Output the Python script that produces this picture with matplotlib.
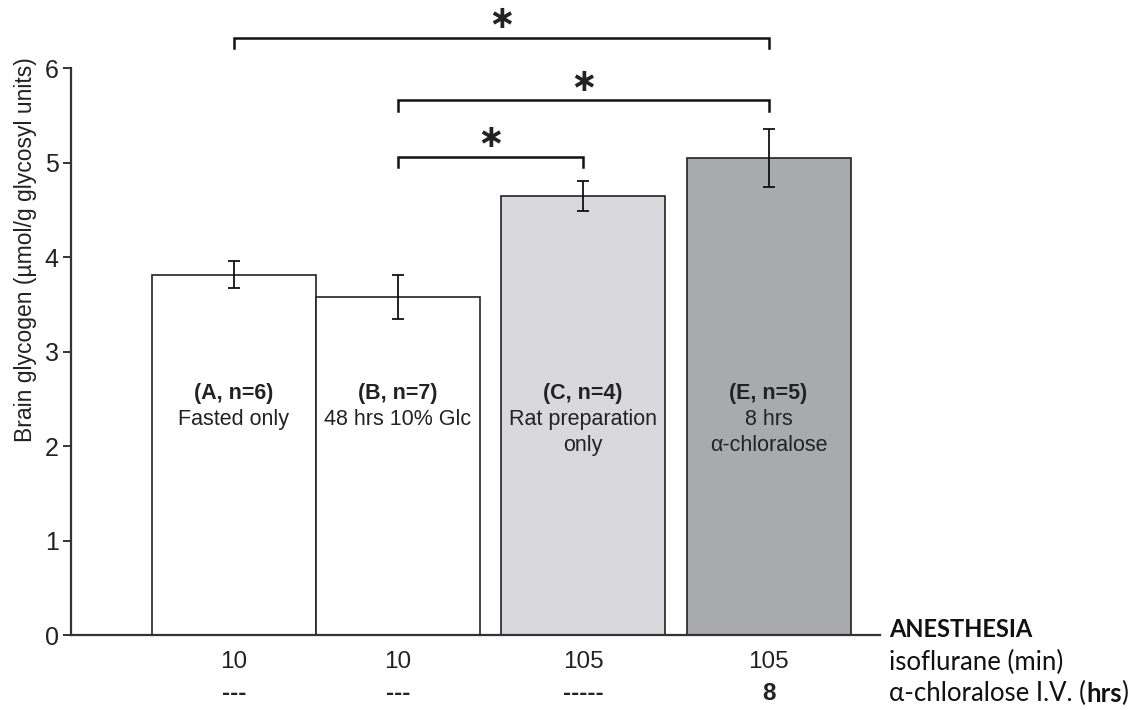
import matplotlib.pyplot as plt
from matplotlib.transforms import blended_transform_factory

plt.rcParams['font.family'] = ['Liberation Sans', 'DejaVu Sans']

# data
groups = ['(A, n=6)', '(B, n=7)', '(C, n=4)', '(E, n=5)']
descr = ['Fasted only', '48 hrs 10% Glc', 'Rat preparation\nonly', '8 hrs\nα-chloralose']
glycogen = [3.81, 3.58, 4.65, 5.05]
err_hi = [3.96, 3.81, 4.80, 5.35]
err_lo = [3.67, 3.34, 4.49, 4.74]
isoflurane = ['10', '10', '105', '105']
chloralose = ['---', '---', '-----', '8']
# significance pairs (bar index i, bar index j, bracket height)
sig = [(0, 3, 6.32), (1, 3, 5.66), (1, 2, 5.06)]

pos = [0, 1, 2.13, 3.26]
colors = ['white', 'white', '#d8d8dd', '#a8aaae']

fig = plt.figure(figsize=(11.38, 7.1), dpi=100)
ax = fig.add_axes([0.0624, 0.1056, 0.7109, 0.7986])

yerr = [[g - lo for g, lo in zip(glycogen, err_lo)],
        [hi - g for g, hi in zip(glycogen, err_hi)]]
ax.bar(pos, glycogen, width=1.0, color=colors, edgecolor='#222222', linewidth=1.2, zorder=2)
ax.errorbar(pos, glycogen, yerr=yerr, fmt='none', ecolor='#111111', elinewidth=1.3,
            capsize=4, capthick=1.3, zorder=3)

ax.set_xlim(-0.994, 3.94)
ax.set_ylim(0, 6)
ax.set_yticks(range(7))
ax.set_xticks([])
for s in ['top', 'right']:
    ax.spines[s].set_visible(False)
for s in ['left', 'bottom']:
    ax.spines[s].set_linewidth(1.6)
    ax.spines[s].set_color('#333333')
ax.tick_params(axis='y', direction='out', length=6, width=1.4, color='#333333',
               pad=3, labelsize=18, labelcolor='#222222')

# labels inside bars
for x, g, d in zip(pos, groups, descr):
    ax.text(x, 2.56, g, ha='center', va='center', fontsize=15.5, fontweight='bold', color='#222222')
    for k, line in enumerate(d.split('\n')):
        ax.text(x, 2.285 - k * 0.28, line, ha='center', va='center', fontsize=15.5, color='#222222')

# significance brackets
for i, j, h in sig:
    x1, x2 = pos[i], pos[j]
    ax.plot([x1, x1, x2, x2], [h - 0.11, h, h, h - 0.11], color='#111111', lw=1.8,
            clip_on=False, solid_joinstyle='miter')
    ax.text((x1 + x2) / 2, h + 0.19, '∗', ha='center', va='center', fontsize=23,
            fontweight='bold', family='DejaVu Sans', color='#222222')

# treatment rows under the axis
tr = blended_transform_factory(ax.transData, ax.transAxes)
for x, a, b in zip(pos, isoflurane, chloralose):
    ax.text(x, -0.048, a, transform=tr, ha='center', va='center', fontsize=17.5, color='#222222')
    ax.text(x, -0.103, b, transform=tr, ha='center', va='center', fontsize=17.5,
            fontweight='bold', color='#222222')

rf = ['Lato', 'DejaVu Sans']
ax.text(1.011, 0.01, 'ANESTHESIA', transform=ax.transAxes, ha='left', va='center',
        fontsize=17, fontweight='bold', family=rf, color='#111111')
ax.text(1.011, -0.048, 'isoflurane (min)', transform=ax.transAxes, ha='left', va='center',
        fontsize=18.5, family=rf, color='#111111')
t1 = ax.text(1.011, -0.103, 'α-chloralose I.V. (', transform=ax.transAxes, ha='left',
             va='center', fontsize=18.5, family=rf, color='#111111')
t2 = ax.annotate('hrs', xy=(1, 0), xycoords=t1, ha='left', va='bottom', fontsize=18.5,
                 fontweight='bold', family=rf, color='#111111')
ax.annotate(')', xy=(1, 0), xycoords=t2, ha='left', va='bottom', fontsize=18.5,
            family=rf, color='#111111')

fig.text(0.022, (710 - 250) / 710, 'Brain glycogen (µmol/g glycosyl units)', rotation=90,
         ha='center', va='center', fontsize=16.5, color='#222222')

fig.savefig('out.png', dpi=100, facecolor='white')
